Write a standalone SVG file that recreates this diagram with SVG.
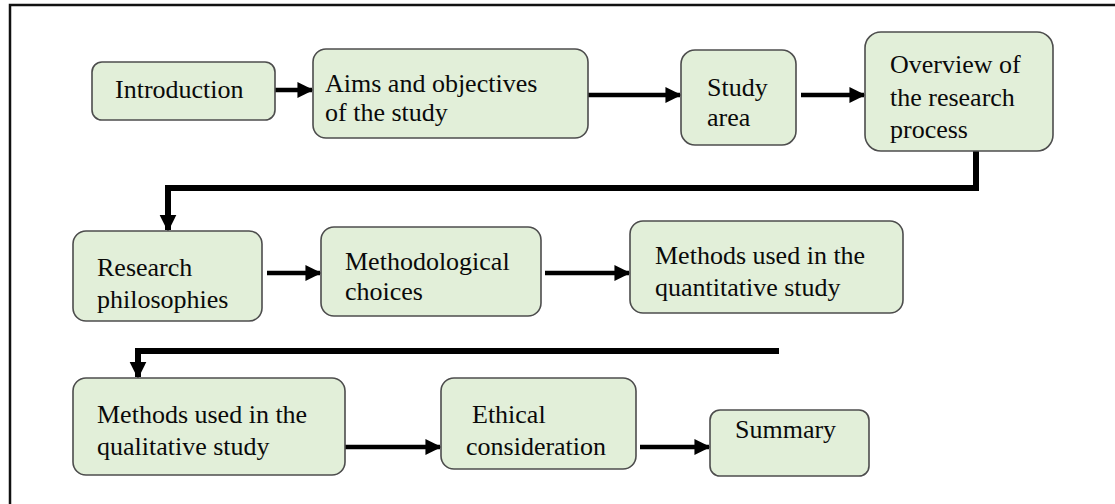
<svg xmlns="http://www.w3.org/2000/svg" width="1115" height="504" viewBox="0 0 1115 504">
  <style>
    .box { fill: #e2efd9; stroke: #4d4d4d; stroke-width: 1.6; }
    .lbl { font-family: "Liberation Serif", "Times New Roman", serif; font-size: 26px; fill: #0a0a0a; }
    .arr { stroke: #000; stroke-width: 4.5; fill: none; }
    .elbow { stroke: #000; stroke-width: 6; fill: none; }
  </style>
  <defs>
    <marker id="head" viewBox="0 0 10 10" refX="9" refY="5" markerWidth="3.6" markerHeight="3.8" orient="auto" markerUnits="strokeWidth">
      <path d="M0,0 L10,5 L0,10 Z" fill="#000"/>
    </marker>
    <marker id="headBig" viewBox="0 0 10 10" refX="9" refY="5" markerWidth="2.8" markerHeight="3" orient="auto" markerUnits="strokeWidth">
      <path d="M0,0 L10,5 L0,10 Z" fill="#000"/>
    </marker>
  </defs>

  <!-- outer frame (top and left edges) -->
  <path d="M10,505 L10,5 L1116,5" fill="none" stroke="#111" stroke-width="2.5"/>

  <g id="connectors">
    <line class="arr" x1="275" y1="90" x2="312" y2="90" marker-end="url(#head)"/>
    <line class="arr" x1="588" y1="95" x2="680" y2="95" marker-end="url(#head)"/>
    <line class="arr" x1="801" y1="95" x2="864" y2="95" marker-end="url(#head)"/>
    <path class="elbow" d="M976,151 L976,188 L168,188 L168,230" marker-end="url(#headBig)"/>
    <line class="arr" x1="267" y1="273" x2="320" y2="273" marker-end="url(#head)"/>
    <line class="arr" x1="545" y1="273" x2="629" y2="273" marker-end="url(#head)"/>
    <path class="elbow" d="M779,351 L138,351 L138,377" marker-end="url(#headBig)"/>
    <line class="arr" x1="345" y1="447" x2="440" y2="447" marker-end="url(#head)"/>
    <line class="arr" x1="640" y1="447" x2="709" y2="447" marker-end="url(#head)"/>
  </g>

  <g id="introduction">
    <rect class="box" x="92" y="62" width="183" height="58" rx="10"/>
    <text class="lbl" x="115" y="98">Introduction</text>
  </g>
  <g id="aims">
    <rect class="box" x="313" y="49" width="275" height="89" rx="13"/>
    <text class="lbl" x="325" y="92">Aims and objectives</text>
    <text class="lbl" x="325" y="121">of the study</text>
  </g>
  <g id="study-area">
    <rect class="box" x="681" y="50" width="115" height="95" rx="14"/>
    <text class="lbl" x="707" y="96">Study</text>
    <text class="lbl" x="707" y="126">area</text>
  </g>
  <g id="overview">
    <rect class="box" x="865" y="32" width="188" height="119" rx="16"/>
    <text class="lbl" x="890" y="73">Overview of</text>
    <text class="lbl" x="890" y="106">the research</text>
    <text class="lbl" x="890" y="138">process</text>
  </g>
  <g id="research-philosophies">
    <rect class="box" x="73" y="231" width="189" height="90" rx="13"/>
    <text class="lbl" x="97" y="276">Research</text>
    <text class="lbl" x="97" y="308">philosophies</text>
  </g>
  <g id="methodological-choices">
    <rect class="box" x="321" y="227" width="220" height="89" rx="13"/>
    <text class="lbl" x="345" y="270">Methodological</text>
    <text class="lbl" x="345" y="300">choices</text>
  </g>
  <g id="quantitative">
    <rect class="box" x="630" y="221" width="273" height="92" rx="13"/>
    <text class="lbl" x="655" y="264">Methods used in the</text>
    <text class="lbl" x="655" y="296">quantitative study</text>
  </g>
  <g id="qualitative">
    <rect class="box" x="73" y="378" width="272" height="97" rx="13"/>
    <text class="lbl" x="97" y="423">Methods used in the</text>
    <text class="lbl" x="97" y="455">qualitative study</text>
  </g>
  <g id="ethical">
    <rect class="box" x="441" y="378" width="195" height="91" rx="13"/>
    <text class="lbl" x="472" y="423">Ethical</text>
    <text class="lbl" x="466" y="455">consideration</text>
  </g>
  <g id="summary">
    <rect class="box" x="710" y="410" width="159" height="66" rx="10"/>
    <text class="lbl" x="735" y="438">Summary</text>
  </g>
</svg>
